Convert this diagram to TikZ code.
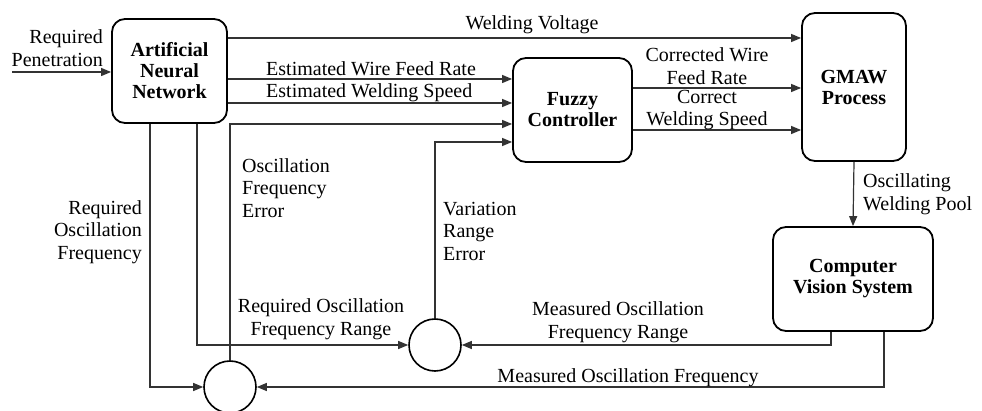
\documentclass[tikz,border=0pt]{standalone}
\usepackage{fontspec}
\setmainfont{Liberation Serif}
\usetikzlibrary{arrows.meta,calc}
\begin{document}
\begin{tikzpicture}[x=1pt,y=-1pt,
  blk/.style={draw,line width=1.8pt,rounded corners=13pt,align=center,inner sep=0pt,
    font=\fontsize{20}{21}\selectfont\bfseries},
  sumc/.style={draw,line width=1.6pt,circle,minimum size=52pt,inner sep=0pt},
  lbl/.style={inner sep=0pt,font=\fontsize{20}{22.5}\selectfont},
  conn/.style={line width=1.2pt,draw=black!80},
  arr/.style={conn,-{Triangle[length=10pt,width=8pt]}}]
\useasboundingbox (0,0) rectangle (982,411);
% blocks
\node[blk,minimum width=115pt,minimum height=104pt] (ann) at (169.5,71) {Artificial\\Neural\\Network};
\node[blk,minimum width=119pt,minimum height=104pt] (fuz) at (572.5,110) {Fuzzy\\Controller};
\node[blk,minimum width=104pt,minimum height=148pt] (gmaw) at (854,87) {GMAW\\Process};
\node[blk,minimum width=160pt,minimum height=104pt] (cvs) at (853,279) {Computer\\Vision System};
\node[sumc] (c1) at (230,387) {};
\node[sumc] (c2) at (435,345) {};
% level coordinates
\coordinate (inp) at (12,72);
\coordinate (yv) at (0,38);
\coordinate (yw) at (0,79);
\coordinate (ys) at (0,103);
\coordinate (yo) at (0,88);
\coordinate (yp) at (0,130);
\coordinate (yfe) at (0,124);
\coordinate (yre) at (0,142);
\coordinate (xa) at (150,0);
\coordinate (xb) at (197,0);
\coordinate (xr) at (831,0);
\coordinate (xf) at (884,0);
% connectors
\draw[arr] (inp) -- (inp -| ann.west);
\draw[arr] (ann.east |- yv) -- (gmaw.west |- yv);
\draw[arr] (ann.east |- yw) -- (fuz.west |- yw);
\draw[arr] (ann.east |- ys) -- (fuz.west |- ys);
\draw[arr] (fuz.east |- yo) -- (gmaw.west |- yo);
\draw[arr] (fuz.east |- yp) -- (gmaw.west |- yp);
\draw[arr] (gmaw.south) -- (cvs.north);
\draw[arr] (cvs.south -| xr) |- (c2.east);
\draw[arr] (cvs.south -| xf) |- (c1.east);
\draw[arr] (ann.south -| xa) |- (c1.west);
\draw[arr] (ann.south -| xb) |- (c2.west);
\draw[arr] (c1.north) |- (fuz.west |- yfe);
\draw[arr] (c2.north) |- (fuz.west |- yre);
% labels
\node[lbl,align=right,anchor=east] (lpen) at (103,48) {Required\\Penetration};
\node[lbl] (lvolt) at (532,25) {Welding Voltage};
\node[lbl,anchor=west] (lwfr) at (266,69) {Estimated Wire Feed Rate};
\node[lbl,anchor=west] (lws) at (266,93) {Estimated Welding Speed};
\node[lbl,align=center] (lcwfr) at (707,66) {Corrected Wire\\Feed Rate};
\node[lbl,align=center] (lcws) at (707,110) {Correct\\Welding Speed};
\node[lbl,align=left,anchor=west] (lpool) at (863,194) {Oscillating\\Welding Pool};
\node[lbl,align=right,anchor=east] (lrof) at (142,232) {Required\\Oscillation\\Frequency};
\node[lbl,align=left,anchor=west] (lofe) at (242,188) {Oscillation\\Frequency\\Error};
\node[lbl,align=left,anchor=west] (lvre) at (443,231) {Variation\\Range\\Error};
\node[lbl,align=center] (lrofr) at (321,319) {Required Oscillation\\Frequency Range};
\node[lbl,align=center] (lmofr) at (618,322) {Measured Oscillation\\Frequency Range};
\node[lbl] (lmof) at (628,378) {Measured Oscillation Frequency};
\end{tikzpicture}
\end{document}
